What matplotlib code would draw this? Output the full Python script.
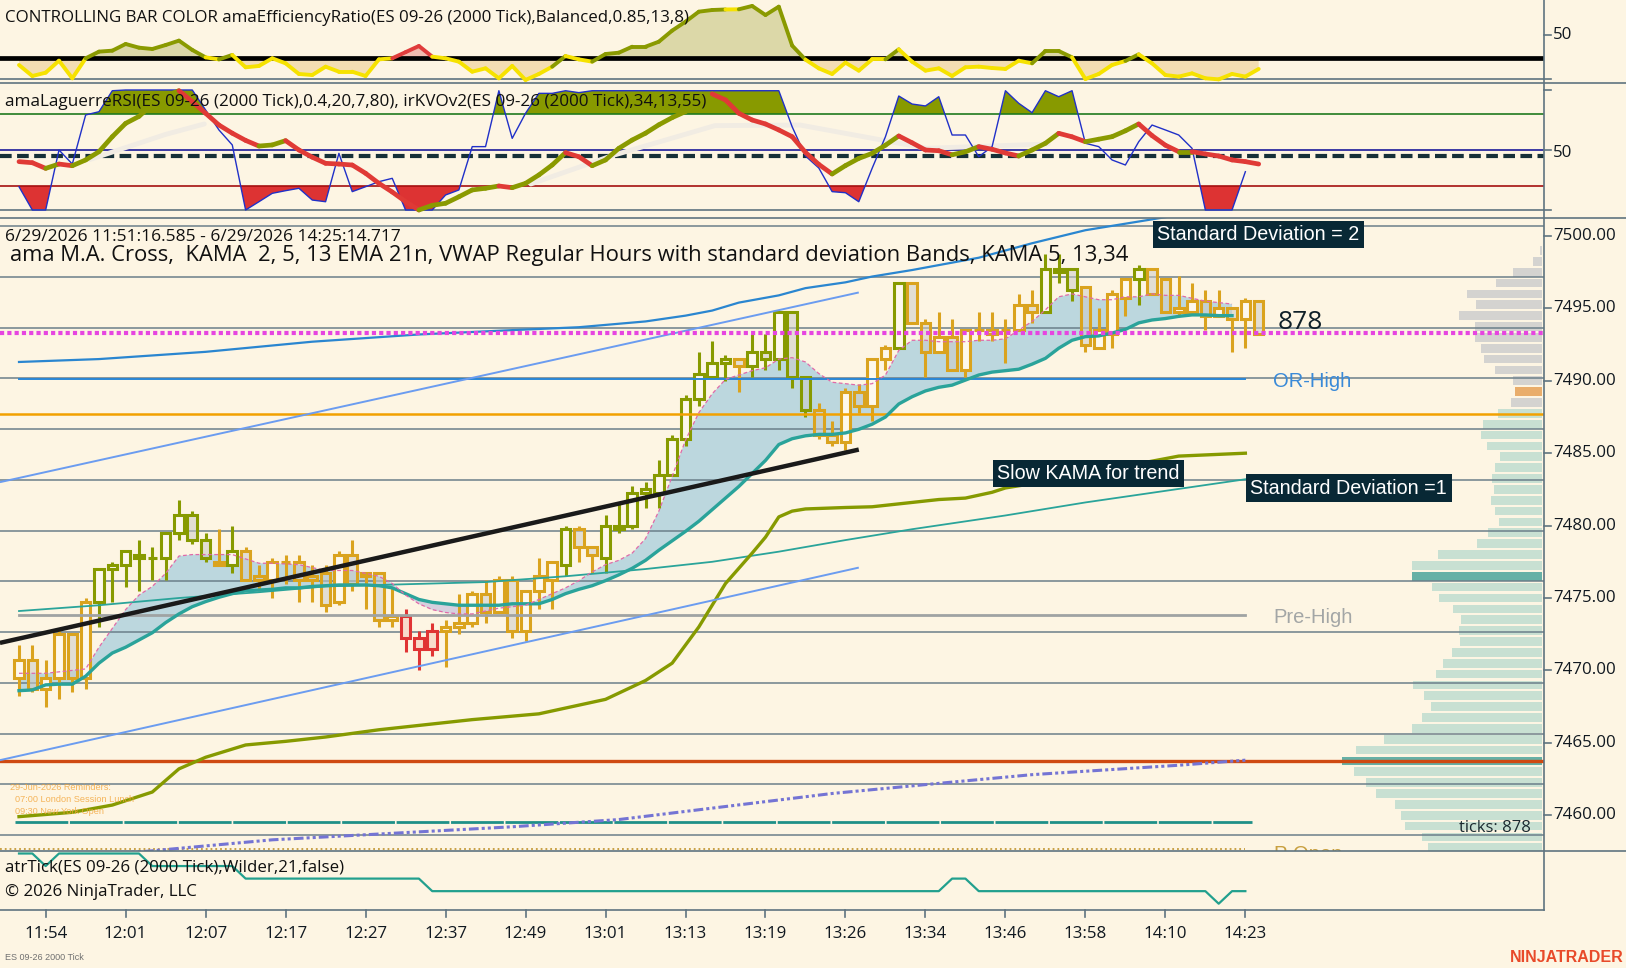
import numpy as np
import matplotlib
matplotlib.use("Agg")
import matplotlib.pyplot as plt
import matplotlib.transforms as mtransforms
from matplotlib.patches import Rectangle
from matplotlib.lines import Line2D
from matplotlib.collections import LineCollection

plt.rcParams['font.family'] = ['Open Sans', 'DejaVu Sans']

W, H = 1626, 968
BG = '#fdf5e3'
SEP = '#5f7480'
GRID = '#6b7f8a'
AX_R = 1544          # right edge of the plot area (px)
BAR_PX = 13.33       # pixels per bar
BAR_X0 = 19          # pixel x of bar 0

# ---------------- price bars (2000 tick) ----------------
opens = [7469.50, 7470.75, 7468.75, 7469.50, 7472.50, 7469.50, 7474.75, 7477.00, 7477.25, 7478.00,
         7477.75, 7477.75, 7479.50, 7480.75, 7479.00, 7477.50, 7477.25, 7478.25, 7476.50, 7476.25,
         7477.50, 7477.50, 7476.50, 7476.75, 7474.75, 7478.00, 7476.50, 7476.75, 7473.50, 7473.75,
         7472.25, 7471.50, 7472.75, 7473.00, 7473.25, 7475.25, 7474.00, 7476.25, 7472.75, 7475.50,
         7476.25, 7477.25, 7479.75, 7478.50, 7477.75, 7479.75, 7480.00, 7482.25, 7482.25, 7483.50,
         7486.00, 7488.75, 7490.25, 7491.25, 7491.50, 7491.00, 7492.00, 7491.50, 7494.75, 7490.25,
         7488.00, 7486.25, 7485.75, 7489.25, 7488.25, 7491.50, 7492.25, 7496.75, 7494.00, 7492.00,
         7493.00, 7490.75, 7493.50, 7493.50, 7493.50, 7493.50, 7495.25, 7494.75, 7497.75, 7497.75,
         7496.50, 7492.25, 7493.25, 7495.75, 7497.00, 7497.75, 7497.00, 7494.75, 7494.75, 7495.50,
         7494.50, 7495.00, 7494.25, 7495.50]
highs = [7471.75, 7471.75, 7470.75, 7472.75, 7472.50, 7475.00, 7477.00, 7477.50, 7478.25, 7479.00,
         7478.50, 7479.50, 7481.75, 7481.00, 7479.50, 7479.75, 7480.00, 7478.50, 7477.25, 7477.75,
         7478.00, 7478.00, 7477.25, 7477.25, 7478.25, 7479.00, 7476.75, 7476.75, 7475.75, 7474.25,
         7472.75, 7473.25, 7473.50, 7475.25, 7475.50, 7476.25, 7476.50, 7476.50, 7475.50, 7477.75,
         7477.50, 7480.00, 7480.00, 7478.50, 7480.75, 7481.50, 7482.75, 7483.00, 7484.50, 7486.25,
         7489.00, 7492.00, 7492.75, 7491.75, 7491.50, 7493.25, 7493.25, 7494.75, 7494.75, 7490.25,
         7488.50, 7487.25, 7489.50, 7489.75, 7491.50, 7492.50, 7496.75, 7496.75, 7494.25, 7494.75,
         7494.25, 7493.50, 7494.75, 7494.75, 7494.25, 7496.00, 7496.25, 7498.75, 7498.75, 7497.75,
         7496.50, 7495.00, 7496.25, 7497.00, 7498.00, 7497.75, 7497.00, 7497.25, 7496.75, 7496.25,
         7496.25, 7495.00, 7495.75, 7495.50]
lows = [7468.25, 7468.50, 7467.50, 7468.00, 7468.50, 7468.75, 7473.00, 7474.75, 7475.75, 7475.50,
        7476.25, 7476.25, 7479.00, 7478.75, 7477.50, 7477.25, 7476.75, 7476.25, 7475.50, 7475.00,
        7476.00, 7474.75, 7474.75, 7474.00, 7474.50, 7475.50, 7474.25, 7473.00, 7473.00, 7471.25,
        7470.00, 7471.00, 7470.25, 7472.50, 7473.00, 7473.25, 7474.00, 7472.25, 7472.00, 7474.25,
        7474.25, 7476.50, 7477.50, 7476.75, 7476.75, 7479.50, 7479.75, 7481.25, 7481.25, 7483.50,
        7485.50, 7488.25, 7490.25, 7490.00, 7489.25, 7490.25, 7490.75, 7490.75, 7489.50, 7487.50,
        7486.00, 7485.50, 7485.25, 7487.75, 7487.25, 7490.75, 7492.25, 7494.00, 7490.25, 7492.00,
        7490.75, 7490.25, 7492.75, 7492.75, 7491.25, 7493.50, 7494.00, 7494.75, 7496.75, 7495.50,
        7492.00, 7492.25, 7492.25, 7494.50, 7495.25, 7496.00, 7494.75, 7494.50, 7494.75, 7493.50,
        7494.50, 7492.00, 7492.25, 7493.25]
closes = [7470.75, 7468.75, 7469.50, 7472.50, 7469.50, 7474.75, 7477.00, 7477.25, 7478.25, 7477.75,
          7477.75, 7479.50, 7480.75, 7479.00, 7477.75, 7477.25, 7478.25, 7476.25, 7476.25, 7477.50,
          7477.50, 7476.25, 7476.25, 7474.50, 7478.00, 7476.00, 7476.75, 7473.50, 7473.75, 7472.25,
          7471.50, 7472.75, 7473.00, 7473.25, 7475.25, 7474.00, 7476.25, 7472.75, 7475.50, 7476.50,
          7477.50, 7479.75, 7478.50, 7478.00, 7480.00, 7480.00, 7482.25, 7482.50, 7483.50, 7486.00,
          7488.75, 7490.50, 7491.25, 7491.50, 7491.00, 7492.00, 7491.50, 7494.75, 7490.25, 7488.00,
          7486.25, 7485.75, 7489.25, 7488.25, 7491.50, 7492.25, 7496.75, 7494.00, 7492.00, 7493.00,
          7490.75, 7493.50, 7493.50, 7493.25, 7493.50, 7495.25, 7494.75, 7497.75, 7497.50, 7496.25,
          7492.50, 7493.50, 7496.00, 7497.00, 7497.75, 7496.00, 7494.75, 7495.00, 7495.50, 7494.50,
          7495.00, 7494.25, 7495.50, 7493.25]
# bar colour state from the efficiency ratio: g = trend up, o = neutral, r = trend down
bar_state = ("oooooo" + "ggggggggg" + "o" + "g" + "oooooooooooo" + "rrr" + "ooooooooo" + "g" + "oo"
             + "gggggggggg" + "o" + "ggggg" + "oooooo" + "g" + "oooooooooo" + "ggg" + "oooo" + "g"
             + "ooooooooo")

# ---------------- overlays on price panel ----------------
kama_fast = [7469.8, 7469.8, 7469.8, 7469.9, 7470.0, 7470.1, 7471.6, 7472.9, 7474.2, 7475.2,
             7475.8, 7476.7, 7477.9, 7478.0, 7478.0, 7478.0, 7478.0, 7477.7, 7477.4, 7477.4,
             7477.35, 7477.3, 7477.1, 7476.9, 7476.9, 7476.9, 7476.7, 7476.5, 7476.0, 7475.2,
             7474.6, 7474.2, 7474.0, 7473.9, 7473.9, 7474.1, 7474.3, 7474.4, 7474.5, 7474.9,
             7475.3, 7475.7, 7476.2, 7476.8, 7477.3, 7477.6, 7478.1, 7479.1, 7481.0, 7483.4,
             7485.9, 7487.8, 7489.1, 7490.1, 7490.4, 7490.7, 7490.9, 7491.5, 7491.6, 7491.3,
             7490.5, 7489.9, 7489.8, 7489.7, 7489.8, 7490.4, 7492.1, 7492.8, 7492.8, 7492.7,
             7492.7, 7492.7, 7492.8, 7492.8, 7492.9, 7493.5, 7494.1, 7494.9, 7495.8, 7496.0,
             7495.8, 7495.6, 7495.6, 7495.8, 7495.8, 7496.0, 7495.9, 7495.9, 7495.7, 7495.5,
             7495.4, 7495.3]
kama_slow = [7468.6, 7468.65, 7469.0, 7469.05, 7469.05, 7469.6, 7470.5, 7471.2, 7471.6, 7472.1,
             7472.6, 7473.3, 7473.9, 7474.4, 7474.75, 7475.05, 7475.3, 7475.5, 7475.55, 7475.6,
             7475.7, 7475.7, 7475.8, 7475.85, 7475.9, 7475.9, 7475.9, 7475.85, 7475.7, 7475.3,
             7474.9, 7474.7, 7474.6, 7474.5, 7474.5, 7474.5, 7474.5, 7474.6, 7474.6, 7474.6,
             7474.9, 7475.3, 7475.6, 7475.85, 7476.2, 7476.6, 7477.05, 7477.6, 7478.3, 7478.95,
             7479.6, 7480.3, 7481.1, 7481.9, 7482.7, 7483.6, 7484.5, 7485.6, 7486.0, 7486.2,
             7486.3, 7486.3, 7486.4, 7486.65, 7487.0, 7487.5, 7488.4, 7488.9, 7489.3, 7489.55,
             7489.7, 7490.05, 7490.4, 7490.6, 7490.7, 7490.8, 7491.15, 7491.55, 7492.25, 7492.8,
             7493.05, 7493.1, 7493.3, 7493.55, 7494.0, 7494.2, 7494.3, 7494.45, 7494.55, 7494.55,
             7494.5, 7494.5]
sd1_bars = [0, 6, 12, 18, 23, 35, 41, 47, 52, 57, 62, 67, 74, 80, 86, 92]
sd1_vals = [7474.1, 7474.5, 7475.0, 7475.4, 7475.8, 7476.1, 7476.5, 7477.0, 7477.5, 7478.2,
            7479.0, 7479.75, 7480.7, 7481.6, 7482.4, 7483.2]
sd2_bars = [0, 6, 14, 22, 30, 37, 42, 47, 50, 52, 54, 57, 59, 62, 64, 67, 72, 76, 80, 84, 88]
sd2_vals = [7491.3, 7491.5, 7492.0, 7492.7, 7493.2, 7493.5, 7493.7, 7494.1, 7494.5, 7494.85,
            7495.4, 7495.9, 7496.4, 7496.8, 7497.2, 7497.65, 7498.5, 7499.5, 7500.4, 7501.0, 7501.6]
slow_bars = [0, 4, 7, 10, 12, 14, 17, 20, 23, 27, 30, 34, 39, 44, 47, 49, 51, 52, 53, 54, 55, 56,
             57, 58, 59, 62, 64, 66, 69, 71, 73, 74, 76, 80, 83, 87, 92]
slow_vals = [7459.9, 7460.2, 7460.7, 7461.6, 7463.2, 7464.0, 7464.85, 7465.1, 7465.4, 7465.9,
             7466.2, 7466.6, 7467.0, 7468.0, 7469.3, 7470.5, 7473.0, 7474.5, 7476.0, 7477.05,
             7478.1, 7479.2, 7480.6, 7481.0, 7481.15, 7481.25, 7481.3, 7481.5, 7481.8, 7481.9,
             7482.3, 7482.6, 7482.9, 7483.6, 7484.1, 7484.8, 7485.0]
vwap_bars = [0, 9.5, 19, 28, 37, 45, 53, 61, 69, 76, 87, 92]
vwap_vals = [7456.9, 7457.5, 7458.3, 7458.75, 7459.2, 7459.7, 7460.6, 7461.5, 7462.2, 7462.8,
             7463.45, 7463.8]
# hand-drawn trend lines: (start bar, start price, end bar, end price)
trend_black = [-1.43, 7471.9, 63.0, 7485.25]
chan_upper = [-1.43, 7483.0, 63.0, 7496.1]
chan_lower = [-1.43, 7463.8, 63.0, 7477.1]
# horizontal levels
or_high = 7490.1
pre_high = 7473.8
orange_lvl = 7487.7
red_lvl = 7463.72
sd_low_lvl = 7459.55
p_open = 7457.67
last_price = 7493.28
# volume profile (rows 0.75 pt apart from 7499.00 down)
profile_top = 7499.0
profile_step = 0.75
profile_vol = [2, 9, 29, 46, 75, 66, 83, 67, 67, 61, 58, 47, 29, 27, 31, 44, 59, 61, 55, 42,
               47, 50, 48, 51, 47, 43, 54, 65, 104, 130, 130, 110, 103, 89, 81, 83, 82, 90, 99, 106,
               129, 118, 111, 120, 130, 158, 186, 200, 188, 176, 166, 147, 141, 137, 120, 114]
profile_sell_rows = 15      # rows above value area shown grey
profile_orange_row = 13
profile_poc_rows = [30, 47]

# ---------------- efficiency ratio panel ----------------
er_vals = [15.9, 3.4, 7.2, 20.8, 0.8, 23.5, 31.1, 32.2, 39.8, 35.6,
           34.1, 38.6, 43.6, 33.0, 24.6, 22.3, 27.3, 13.3, 14.8, 23.5,
           17.8, 5.7, 4.5, 14.0, 8.3, 8.3, 3.4, 22.3, 23.5, 30.5,
           37.5, 25.4, 23.5, 19.7, 8.3, 12.1, 0.8, 14.8, -1.1, 5.7,
           14.0, 26.1, 22.3, 19.7, 28.4, 29.9, 36.7, 36.7, 42.4, 55.0,
           65.1, 76.5, 78.4, 79.0, 79.2, 83.0, 72.7, 82.2, 38.0, 22.0,
           12.1, 5.7, 18.6, 9.5, 22.3, 22.3, 33.7, 19.7, 9.5, 12.1,
           3.4, 13.3, 14.0, 12.5, 11.4, 20.8, 17.8, 31.8, 31.8, 24.6,
           0.0, 5.7, 15.9, 20.5, 28.0, 17.8, 4.5, 2.7, 6.4, 0.8,
           -0.4, 5.7, 2.7, 11.4]
er_thr = 24.2

# ---------------- Laguerre RSI / KVO panel ----------------
lag_vals = [40.3, 39.4, 34.7, 38.3, 36.9, 41.7, 48.6, 61.1, 72.2, 78.0,
            88.0, 95.0, 99.4, 90.3, 80.6, 70.8, 64.0, 58.0, 53.3, 54.2,
            57.8, 50.0, 44.0, 38.9, 38.3, 37.5, 30.6, 22.2, 15.0, 7.0,
            0.0, 3.9, 5.6, 11.0, 16.7, 18.1, 20.0, 18.6, 22.2, 29.2,
            37.5, 47.8, 44.4, 36.9, 41.7, 51.4, 58.3, 64.0, 71.0, 77.0,
            82.0, 88.9, 96.7, 91.7, 80.6, 75.0, 71.7, 66.7, 61.1, 48.0,
            38.0, 30.0, 37.0, 43.0, 47.2, 54.0, 61.7, 56.0, 50.0, 49.4,
            46.0, 48.5, 52.8, 50.6, 47.5, 45.0, 50.0, 55.6, 63.9, 61.0,
            56.9, 59.0, 61.1, 66.0, 71.7, 62.0, 54.0, 48.6, 48.6, 46.7,
            45.0, 41.7, 40.3, 38.3]
kvo_vals = [19.4, 0, 0, 50, 38.3, 79.2, 81.9, 99.4, 100, 100,
            100, 100, 100, 100, 83.3, 66.7, 54.2, 0, 6.9, 13.9,
            16.1, 18.1, 8.3, 6.9, 47.2, 15.3, 19.4, 23.6, 26.4, 0,
            0, 0, 12.5, 16.7, 52.8, 52.8, 99.4, 59.7, 80.6, 97.2,
            97.2, 99.4, 97.8, 99.4, 99.4, 99.4, 99.4, 99.4, 99.4, 99.4,
            99.4, 99.4, 99.4, 99.4, 99.4, 99.4, 99.4, 99.4, 69.4, 45,
            35, 15.3, 14.4, 6.9, 34.7, 61.1, 95, 88.3, 86.7, 94.4,
            62.5, 62.5, 44.4, 52.8, 99.4, 88.9, 81.1, 99.4, 94.4, 99.4,
            55.6, 52.8, 41.7, 37.5, 56.9, 70.8, 66.7, 62.5, 51.4, 0,
            0, 0, 31.9]
sig_a_bars = [5.3, 8, 11, 13.9]
sig_a_vals = [42, 52, 63, 71.7]
sig_b_bars = [38.4, 44.5, 52.2, 58.6, 68.1, 77.2]
sig_b_vals = [21.7, 45.3, 70.3, 70.8, 51.4, 55.0]

# ---------------- ATR panel ----------------
atr_vals = [8, 8, 7, 8, 8, 8, 8, 8, 8, 8,
            7, 7, 7, 7, 7, 7, 7, 6, 6, 6,
            6, 6, 6, 6, 6, 6, 6, 6, 6, 6,
            6, 5, 5, 5, 5, 5, 5, 5, 5, 5,
            5, 5, 5, 5, 5, 5, 5, 5, 5, 5,
            5, 5, 5, 5, 5, 5, 5, 5, 5, 5,
            5, 5, 5, 5, 5, 5, 5, 5, 5, 5,
            6, 6, 5, 5, 5, 5, 5, 5, 5, 5,
            5, 5, 5, 5, 5, 5, 5, 5, 5, 5,
            4, 5, 5]

time_labels = ['11:54', '12:01', '12:07', '12:17', '12:27', '12:37', '12:49', '13:01',
               '13:13', '13:19', '13:26', '13:34', '13:46', '13:58', '14:10', '14:23']
time_bars = [2, 8, 14, 20, 26, 32, 38, 44, 50, 56, 62, 68, 74, 80, 86, 92]
price_ticks = [7500, 7495, 7490, 7485, 7480, 7475, 7470, 7465, 7460]

# ================= drawing =================
fig = plt.figure(figsize=(W / 100, H / 100), dpi=100, facecolor=BG)


def px_rect(y0, y1):
    return [0, 1 - y1 / H, AX_R / W, (y1 - y0) / H]


def fx(x):
    return x / W


def fy(y):
    return 1 - y / H


X0 = -BAR_X0 / BAR_PX
X1 = (AX_R - BAR_X0) / BAR_PX

ax_er = fig.add_axes(px_rect(0, 83))
ax_rsi = fig.add_axes(px_rect(83, 218))
ax_main = fig.add_axes(px_rect(218, 851))
ax_atr = fig.add_axes(px_rect(851, 910))
for a in (ax_er, ax_rsi, ax_main, ax_atr):
    a.set_axis_off()
    a.set_xlim(X0, X1)

ax_er.set_ylim((79 - 83) * 50 / 44, 79 * 50 / 44)
ax_rsi.set_ylim((210 - 218) / 1.2, (210 - 83) / 1.2)
ax_main.set_ylim(7500 - (851 - 236) / 14.48, 7500 + 18 / 14.48)
ax_atr.set_ylim(8 - (910 - 853.5) / 12.55, 8 + 2.5 / 12.55)

TXT = 12.2

# ---- efficiency ratio ----
er = np.array(er_vals)
xe = np.arange(len(er))
ax_er.fill_between(xe, er, er_thr, where=er >= er_thr, interpolate=True, color='#dcd8a8', lw=0, zorder=1)
ax_er.fill_between(xe, er, er_thr, where=er < er_thr, interpolate=True, color='#f3ddb3', lw=0, zorder=1)
red_near = np.array([bar_state[i] == 'r' or (i + 1 < len(er) and bar_state[i + 1] == 'r')
                     for i in range(len(er))])
ax_er.fill_between(xe, er, er_thr, where=(er >= er_thr) & red_near, interpolate=True,
                   color='#f0bcb0', lw=0, zorder=1.1)
ax_er.axhline(er_thr, color='black', lw=3.4, zorder=2)
ax_er.axhline(0, color=SEP, lw=1.2, zorder=2)
er_col = {'g': '#8a9a00', 'o': '#f6e200', 'r': '#e03c3c'}
segs = [[(i - 1, er[i - 1]), (i, er[i])] for i in range(1, len(er))]
ax_er.add_collection(LineCollection(segs, colors=[er_col[bar_state[i]] for i in range(1, len(er))],
                                    lw=2.8, capstyle='round', zorder=3))
ax_er.text(fx(5), fy(17.5), 'CONTROLLING BAR COLOR amaEfficiencyRatio(ES 09-26 (2000 Tick),Balanced,0.85,13,8)',
           transform=fig.transFigure, fontsize=TXT, color='#101010', va='center', ha='left', zorder=5)

# ---- laguerre rsi / kvo ----
kvo = np.array(kvo_vals, dtype=float)
xk = np.arange(len(kvo))
ax_rsi.fill_between(xk, kvo, 80, where=kvo >= 80, interpolate=True, color='#889a00', lw=0, zorder=1)
ax_rsi.fill_between(xk, kvo, 20, where=kvo <= 20, interpolate=True, color='#dd3333', lw=0, zorder=1)
ax_rsi.axhline(80, color='#1f7a1f', lw=1.2, zorder=2)
ax_rsi.axhline(50, color='#1a1a9a', lw=1.2, zorder=2)
ax_rsi.axhline(20, color='#a51010', lw=1.2, zorder=2)
ax_rsi.axhline(0, color=SEP, lw=1.2, zorder=2)
ax_rsi.axhline(45, color='#163038', lw=3, dashes=(2.8, 1.3), zorder=2)
ax_rsi.plot(sig_a_bars, sig_a_vals, color='#f1ece3', lw=3.5, zorder=2.5, solid_capstyle='round')
ax_rsi.plot(sig_b_bars, sig_b_vals, color='#f1ece3', lw=3.5, zorder=2.5, solid_capstyle='round')
ax_rsi.plot(xk, kvo, color='#2030c8', lw=1.0, zorder=3)
lag = np.array(lag_vals)
lsegs = [[(i - 1, lag[i - 1]), (i, lag[i])] for i in range(1, len(lag))]
lcols = ['#8a9a00' if lag[i] >= lag[i - 1] else '#e03a36' for i in range(1, len(lag))]
ax_rsi.add_collection(LineCollection(lsegs, colors=lcols, lw=3.4, capstyle='round', zorder=4))
ax_rsi.text(fx(5), fy(101.5), 'amaLaguerreRSI(ES 09-26 (2000 Tick),0.4,20,7,80), irKVOv2(ES 09-26 (2000 Tick),34,13,55)',
            transform=fig.transFigure, fontsize=12.35, color='#101010', va='center', ha='left', zorder=5)

# ---- price panel ----
n = len(opens)
for gy in np.arange(7500.69, 7457.0, -3.505):
    ax_main.axhline(gy, color=GRID, lw=1.1, zorder=1)

# volume profile
xr = (1542 - BAR_X0) / BAR_PX
for k, v in enumerate(profile_vol):
    lvl = profile_top - profile_step * k
    if k in profile_poc_rows:
        c = '#66b0a6'
    elif k == profile_orange_row:
        c = '#e9ad6b'
    elif k < profile_sell_rows:
        c = '#d4d3d0'
    else:
        c = '#c8e0d2'
    w = v / BAR_PX
    ax_main.add_patch(Rectangle((xr - w, lvl - 0.3), w, 0.6, facecolor=c, lw=0, zorder=0.8))

# kama cloud
kf = np.array(kama_fast)
ks = np.array(kama_slow)
xkm = np.arange(len(kf))
ax_main.fill_between(xkm, kf, ks, where=kf >= ks, interpolate=True, color='#bcd7de', lw=0, zorder=0.9)
ax_main.fill_between(xkm, kf, ks, where=kf < ks, interpolate=True, color='#d6d0de', lw=0, zorder=0.9)

# candles
edge = {'g': '#879a00', 'o': '#daa31e', 'r': '#e03434'}
bw = 0.72
for i in range(n):
    o, h, l, c = opens[i], highs[i], lows[i], closes[i]
    st = bar_state[i]
    ec = edge[st]
    top, bot = max(o, c), min(o, c)
    if st == 'r':
        fc = '#f8dccb'
    elif c >= o:
        fc = '#fdf8ec'
    else:
        fc = (0.80, 0.80, 0.78, 0.55)
    ax_main.plot([i, i], [top, h], color=ec, lw=2.2, solid_capstyle='butt', zorder=3)
    ax_main.plot([i, i], [l, bot], color=ec, lw=2.2, solid_capstyle='butt', zorder=3)
    ax_main.add_patch(Rectangle((i - bw / 2, bot), bw, top - bot, facecolor=fc, edgecolor=ec,
                                lw=2.2, zorder=3.1))

# level lines
ax_main.axhline(orange_lvl, color='#f2a100', lw=1.8, zorder=4)
ax_main.axhline(red_lvl, color='#cf4a12', lw=2.4, zorder=4)
ax_main.plot([0, 92], [or_high, or_high], color='#2a86d6', lw=1.4, zorder=4)
ax_main.plot([0, 92], [pre_high, pre_high], color='#9fa3a3', lw=2.0, zorder=4)
ax_main.plot([-0.3, 92.5], [sd_low_lvl, sd_low_lvl], color='#1f9088', lw=2.0, dashes=(19, 0.6), zorder=4)
ax_main.plot([X0, 92], [p_open, p_open], color='#c49a3a', lw=1.3, ls=':', zorder=4)
ax_main.axhline(last_price, color='#e645e0', lw=3.0, dashes=(1.0, 0.75), zorder=4.5)

# indicator lines
ax_main.plot(sd2_bars, sd2_vals, color='#2a86d0', lw=1.6, zorder=4)
ax_main.plot(sd1_bars, sd1_vals, color='#2aa49a', lw=1.3, zorder=4)
ax_main.plot(slow_bars, slow_vals, color='#869a00', lw=2.4, zorder=4)
ax_main.plot(vwap_bars, vwap_vals, color='#7474d4', lw=2.2, dashes=(3.2, 1.0, 1.0, 1.0, 1.0, 1.0), zorder=4)
ax_main.plot(xkm, ks, color='#2aa39a', lw=2.4, zorder=4.2)
ax_main.plot(xkm, kf, color='#e06aa8', lw=0.9, dashes=(3, 2), zorder=4.2)

# trend lines
for tl, col, lw in ((chan_upper, '#6b9cf0', 1.4), (chan_lower, '#6b9cf0', 1.4), (trend_black, '#1a1a1a', 3.2)):
    ax_main.plot([tl[0], tl[2]], [tl[1], tl[3]], color=col, lw=lw, zorder=4.3, solid_capstyle='butt')

# labels in price panel
ax_main.text(94.1, or_high - 0.15, 'OR-High', color='#3a8ad8', fontsize=14.5, family=['Liberation Sans'],
             va='center', ha='left', zorder=5)
ax_main.text(94.1, pre_high - 0.15, 'Pre-High', color='#a3a6a6', fontsize=14.5, family=['Liberation Sans'],
             va='center', ha='left', zorder=5)
ax_main.text(94.1, 7457.95, 'P-Open', color='#c8a040', fontsize=14.5, family=['Liberation Sans'],
             va='top', ha='left', zorder=5, clip_on=True)
ax_main.text(94.4, last_price + 0.75, '878', color='#102028', fontsize=19, va='center', ha='left', zorder=5)
ax_main.text((1531 - BAR_X0) / BAR_PX, 7459.1, 'ticks: 878', color='#1a2a30', fontsize=12,
             va='center', ha='right', zorder=5)

fig.text(fx(5), fy(236.5), '6/29/2026 11:51:16.585 - 6/29/2026 14:25:14.717', fontsize=12.5,
         color='#101010', va='center', ha='left', zorder=6)
fig.text(fx(10), fy(256), 'ama M.A. Cross,  KAMA  2, 5, 13 EMA 21n, VWAP Regular Hours with standard deviation Bands, KAMA 5, 13,34',
         fontsize=15.8, color='#101010', va='center', ha='left', zorder=6)

reminders = ['29-Jun-2026 Reminders:', '  07:00 London Session Lunch', '  09:30 New York Open']
for k, line in enumerate(reminders):
    fig.text(fx(10), fy(788 + 11.5 * k), line, fontsize=6.6, color='#f3a437', alpha=0.8,
             va='center', ha='left', family=['Liberation Sans'], zorder=6)


def label_box(x0, y0, x1, y1, text):
    fig.add_artist(Rectangle((fx(x0), fy(y1)), (x1 - x0) / W, (y1 - y0) / H, transform=fig.transFigure,
                             facecolor='#082835', edgecolor='none', zorder=7))
    fig.text(fx(x0 + 4), fy((y0 + y1) / 2), text, color='white', fontsize=14.2,
             family=['Liberation Sans'], va='center', ha='left', zorder=8)


label_box(1153, 221, 1364, 248, 'Standard Deviation = 2')
label_box(1246, 474, 1452, 502, 'Standard Deviation =1')
label_box(993, 460, 1184, 487, 'Slow KAMA for trend')

# ---- atr panel ----
ax_atr.plot(np.arange(len(atr_vals)), atr_vals, color='#22a08e', lw=1.6, zorder=2, clip_on=False)
fig.text(fx(5), fy(868), 'atrTick(ES 09-26 (2000 Tick),Wilder,21,false)', fontsize=TXT,
         color='#101010', va='center', ha='left', zorder=6)
fig.text(fx(5), fy(892), '\u00a9 2026 NinjaTrader, LLC', fontsize=TXT, color='#101010',
         va='center', ha='left', zorder=6)

# ---- frame / separators ----
for yy, x_end in ((83, W), (218, W), (851, W), (910, AX_R)):
    fig.add_artist(Line2D([0, fx(x_end)], [fy(yy), fy(yy)], transform=fig.transFigure,
                          color=SEP, lw=1.2, zorder=9))
fig.add_artist(Line2D([fx(AX_R), fx(AX_R)], [fy(0), fy(910)], transform=fig.transFigure,
                      color=SEP, lw=1.2, zorder=9))

# right axis labels
tmain = mtransforms.blended_transform_factory(fig.transFigure, ax_main.transData)
for p in price_ticks:
    fig.add_artist(Line2D([fx(AX_R), fx(AX_R + 7)], [p, p], transform=tmain, color=SEP, lw=1.2))
    fig.text(fx(1553), p, f'{p:.2f}', transform=tmain, fontsize=12.2, color='#101820',
             va='center', ha='left')
ter = mtransforms.blended_transform_factory(fig.transFigure, ax_er.transData)
for p in (50, 0):
    fig.add_artist(Line2D([fx(AX_R), fx(AX_R + 7)], [p, p], transform=ter, color=SEP, lw=1.2))
fig.text(fx(1553), 50, '50', transform=ter, fontsize=12.2, color='#101820', va='center', ha='left')
trsi = mtransforms.blended_transform_factory(fig.transFigure, ax_rsi.transData)
for p in (100, 50, 0):
    fig.add_artist(Line2D([fx(AX_R), fx(AX_R + 7)], [p, p], transform=trsi, color=SEP, lw=1.2))
fig.text(fx(1553), 47.5, '50', transform=trsi, fontsize=12.2, color='#101820', va='center', ha='left')

# time axis
ttime = mtransforms.blended_transform_factory(ax_atr.transData, fig.transFigure)
for b, lab in zip(time_bars, time_labels):
    fig.add_artist(Line2D([b, b], [fy(910), fy(917)], transform=ttime, color=SEP, lw=1.2))
    fig.text(b, fy(934), lab, transform=ttime, fontsize=12.2, color='#101820', va='center', ha='center')

fig.text(fx(5), fy(957), 'ES 09-26 2000 Tick', fontsize=6.5, color='#707070', va='center', ha='left',
         family=['Liberation Sans'])
fig.text(fx(1624), fy(958), 'NINJATRADER', fontsize=11.5, color='#e84a2a', weight='bold',
         va='center', ha='right', family=['Liberation Sans'])

fig.savefig('out.png', dpi=100, facecolor=BG)
